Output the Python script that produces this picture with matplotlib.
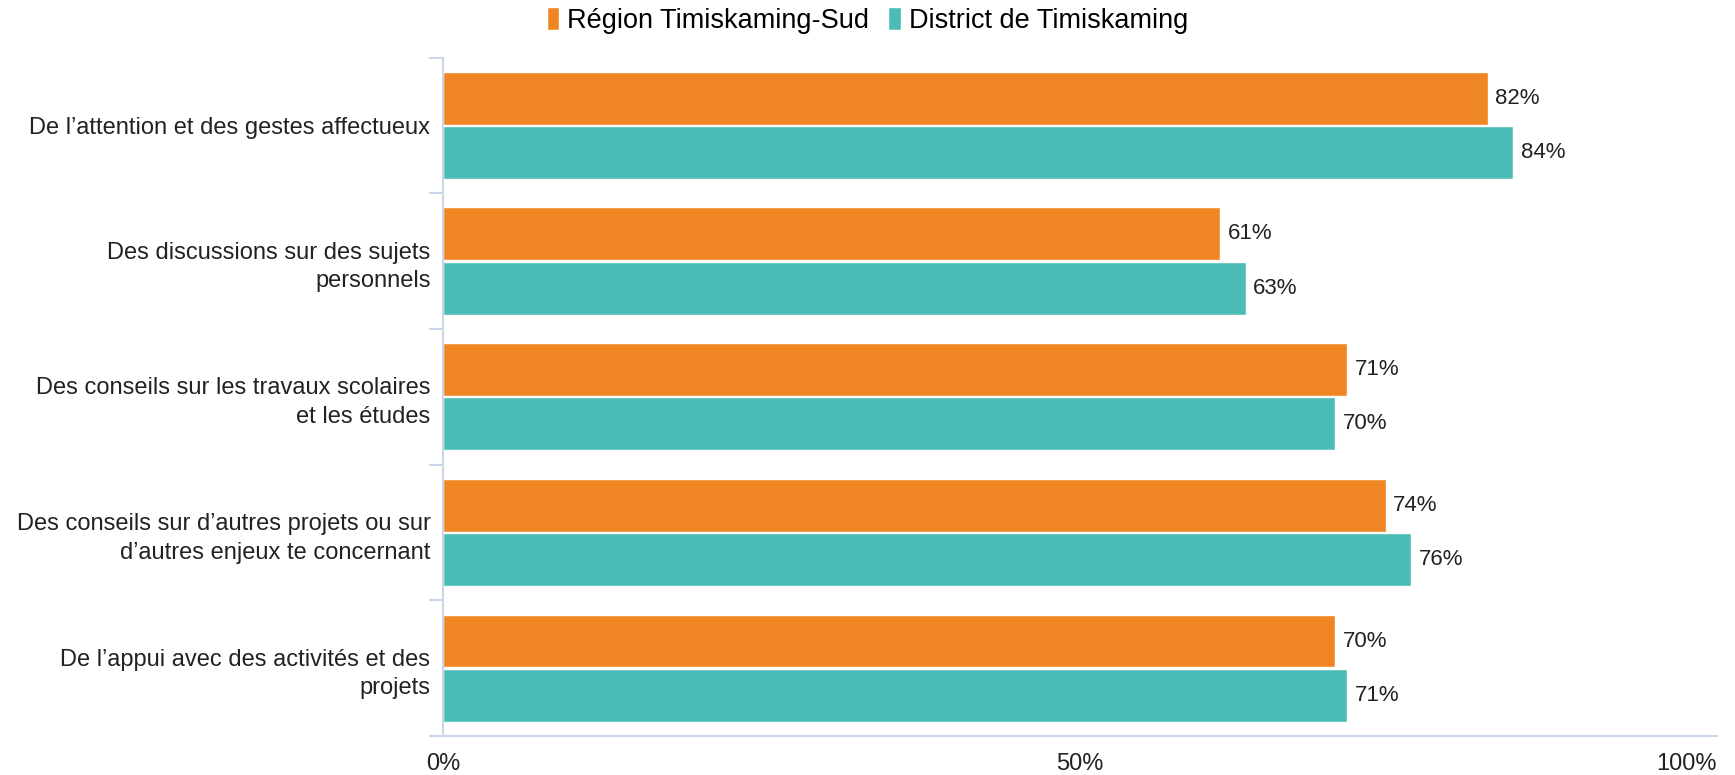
import numpy as np
import matplotlib.pyplot as plt
from matplotlib.ticker import FixedLocator
from matplotlib.transforms import ScaledTranslation

plt.rcParams['font.family'] = ['Liberation Sans', 'DejaVu Sans']

categories = [
    "De l\u2019attention et des gestes affectueux",
    "Des discussions sur des sujets\npersonnels",
    "Des conseils sur les travaux scolaires\net les \u00e9tudes",
    "Des conseils sur d\u2019autres projets ou sur\nd\u2019autres enjeux te concernant",
    "De l\u2019appui avec des activit\u00e9s et des\nprojets",
]
region = [82, 61, 71, 74, 70]
district = [84, 63, 70, 76, 71]
series_names = ["R\u00e9gion Timiskaming-Sud", "District de Timiskaming"]
colors = ["#EF8523", "#4BBBB5"]
axis_color = "#ccd6eb"
text_color = "#222222"

fig = plt.figure(figsize=(17.35, 7.75), dpi=100)
ax = fig.add_axes([0.2553, 0.0503, 0.7343, 0.8755])

y = np.arange(len(categories))
h = 0.39
for vals, off, col, name in [(region, -h / 2 - 0.005, colors[0], series_names[0]),
                             (district, h / 2 + 0.005, colors[1], series_names[1])]:
    bars = ax.barh(y + off, vals, height=h, color=col, edgecolor="white",
                   linewidth=1, label=name)
    for b, v in zip(bars, vals):
        ax.text(v + 0.6, b.get_y() + b.get_height() / 2, f"{v}%",
                va="center", ha="left", fontsize=16, color=text_color)

ax.set_xlim(0, 100)
ax.set_ylim(len(categories) - 0.5, -0.5)
ax.set_xticks([0, 50, 100])
ax.set_xticklabels(["0%", "50%", "100%"], fontsize=17, color=text_color)
last = ax.get_xticklabels()[-1]
last.set_horizontalalignment("right")
last.set_transform(last.get_transform() + ScaledTranslation(0.09, 0, fig.dpi_scale_trans))
ax.tick_params(axis="x", length=0, pad=12)

ax.set_yticks(y)
ax.set_yticklabels(categories, fontsize=17, color=text_color)
for lab in ax.get_yticklabels():
    lab.set_linespacing(1.4)
ax.tick_params(axis="y", which="major", length=0, pad=9)
ax.yaxis.set_minor_locator(FixedLocator(np.arange(-0.5, len(categories), 1.0)))
ax.tick_params(axis="y", which="minor", length=10, color=axis_color, width=1.5)

for s in ["top", "right"]:
    ax.spines[s].set_visible(False)
for s in ["left", "bottom"]:
    ax.spines[s].set_color(axis_color)
    ax.spines[s].set_linewidth(1.5)

fig.legend(loc="upper center", bbox_to_anchor=(0.5, 1.022), ncol=2, frameon=False,
           fontsize=19.5, handlelength=0.45, handleheight=0.9, handletextpad=0.3,
           columnspacing=0.7)

fig.savefig("out.png", dpi=100)
